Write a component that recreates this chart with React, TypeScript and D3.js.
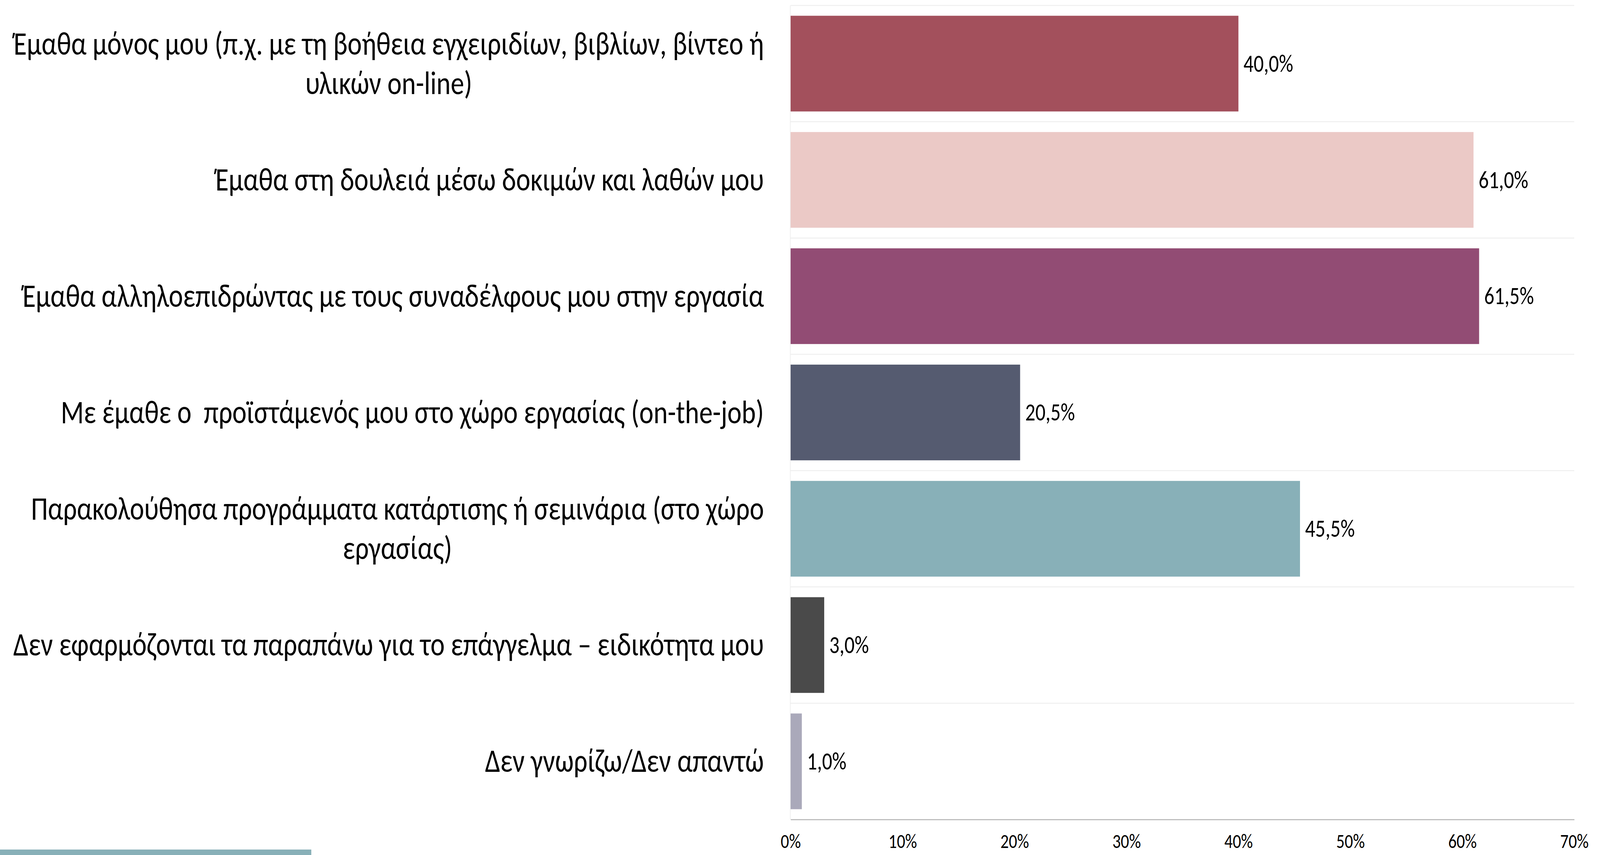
import { useEffect, useRef } from "react";
import * as d3 from "d3";

// ── Data ─────────────────────────────────────────────────────────────────
const CATEGORIES: string[][] = [
  ["Έμαθα μόνος μου (π.χ. με τη βοήθεια εγχειριδίων, βιβλίων, βίντεο ή", "υλικών on-line)"],
  ["Έμαθα στη δουλειά μέσω δοκιμών και λαθών μου"],
  ["Έμαθα αλληλοεπιδρώντας με τους συναδέλφους μου στην εργασία"],
  ["Με έμαθε ο  προϊστάμενός μου στο χώρο εργασίας (on-the-job)"],
  ["Παρακολούθησα προγράμματα κατάρτισης ή σεμινάρια (στο χώρο", "εργασίας)"],
  ["Δεν εφαρμόζονται τα παραπάνω για το επάγγελμα – ειδικότητα μου"],
  ["Δεν γνωρίζω/Δεν απαντώ"],
];

const VALUES = [40.0, 61.0, 61.5, 20.5, 45.5, 3.0, 1.0];

const BAR_COLORS = ["#A3505C", "#EBC9C6", "#924C74", "#555B70", "#88B0B8", "#4A4A4A", "#AAA9BA"];

const X_TICKS = [0, 10, 20, 30, 40, 50, 60, 70];

// ── Layout ───────────────────────────────────────────────────────────────
const W = 5037;
const H = 2190;
const PLOT = { left: 2489, right: 4956, top: 14, bottom: 2099 };
const LABEL_RIGHT = 2405;
const FONT = "Carlito, 'Liberation Sans Narrow', 'Noto Sans', sans-serif";
const CAT_FS = 85;
const CAT_LH = 101;
const VAL_FS = 63;
const TICK_FS = 52;

const fmt = (v: number) => `${v.toFixed(1).replace(".", ",")}%`;

export default function App() {
  const svgRef = useRef<SVGSVGElement>(null);

  useEffect(() => {
    if (!svgRef.current) return;
    document.body.style.margin = "0";
    document.body.style.overflow = "hidden";

    const svg = d3.select(svgRef.current);
    svg.selectAll("*").remove();

    const x = d3.scaleLinear().domain([0, 70]).range([PLOT.left, PLOT.right]);
    const y = d3.scaleBand<number>()
      .domain(d3.range(VALUES.length))
      .range([PLOT.top, PLOT.bottom])
      .paddingInner(0.177)
      .paddingOuter(0.0885);

    const step = y.step();
    const bounds = d3.range(VALUES.length + 1).map((i) => PLOT.top + i * step);

    // ── Light horizontal grid at band boundaries ──
    svg.append("g")
      .selectAll("line")
      .data(bounds.slice(0, -1))
      .enter()
      .append("line")
      .attr("x1", PLOT.left).attr("x2", PLOT.right)
      .attr("y1", (d) => d).attr("y2", (d) => d)
      .attr("stroke", "#EFEFEF")
      .attr("stroke-width", 2.5);

    // left vertical edge
    svg.append("line")
      .attr("x1", PLOT.left - 1).attr("x2", PLOT.left - 1)
      .attr("y1", PLOT.top).attr("y2", PLOT.bottom)
      .attr("stroke", "#EDEDED")
      .attr("stroke-width", 2);

    // ── Bars ──
    svg.append("g")
      .selectAll("rect")
      .data(VALUES)
      .enter()
      .append("rect")
      .attr("x", x(0))
      .attr("y", (_, i) => y(i)!)
      .attr("width", (d) => x(d) - x(0))
      .attr("height", y.bandwidth())
      .attr("fill", (_, i) => BAR_COLORS[i]);

    // ── Value labels ──
    svg.append("g")
      .selectAll("text")
      .data(VALUES)
      .enter()
      .append("text")
      .attr("x", (d) => x(d) + 16)
      .attr("y", (_, i) => y(i)! + y.bandwidth() / 2 + VAL_FS * 0.33)
      .attr("font-family", FONT)
      .attr("font-size", VAL_FS)
      .attr("fill", "#000")
      .text((d) => fmt(d));

    // ── Category labels (block right-aligned, lines centred) ──
    const catG = svg.append("g");
    CATEGORIES.forEach((lines, i) => {
      const cy = y(i)! + y.bandwidth() / 2;
      const first = cy + CAT_FS * 0.32 - ((lines.length - 1) * CAT_LH) / 2;
      const texts = lines.map((ln, j) =>
        catG.append("text")
          .attr("y", first + j * CAT_LH)
          .attr("font-family", FONT)
          .attr("font-size", CAT_FS)
          .attr("fill", "#000")
          .style("white-space", "pre")
          .text(ln),
      );
      const maxW = d3.max(texts, (t) => (t.node() as SVGTextElement).getComputedTextLength()) ?? 0;
      texts.forEach((t) => t.attr("x", LABEL_RIGHT - maxW / 2).attr("text-anchor", "middle"));
    });

    // ── X axis ──
    const axisG = svg.append("g")
      .attr("transform", `translate(0,${PLOT.bottom})`)
      .call(
        d3.axisBottom(x)
          .tickValues(X_TICKS)
          .tickFormat((d) => `${d}%`)
          .tickSize(0)
          .tickPadding(36),
      );
    axisG.select(".domain").attr("stroke", "#BFBFBF").attr("stroke-width", 3);
    axisG.selectAll(".tick text")
      .attr("font-family", FONT)
      .attr("font-size", TICK_FS)
      .attr("fill", "#000");

    // ── Decorative footer strip ──
    svg.append("rect")
      .attr("x", 0).attr("y", 2176)
      .attr("width", 980).attr("height", 14)
      .attr("fill", "#88B0B8");
  }, []);

  // The SVG fills the whole viewport so the picture lines up with the 5037×2190 frame.
  return (
    <svg
      ref={svgRef}
      viewBox={`0 0 ${W} ${H}`}
      preserveAspectRatio="none"
      style={{ position: "fixed", left: 0, top: 0, width: "100vw", height: "100vh", background: "#fff", display: "block" }}
    />
  );
}
